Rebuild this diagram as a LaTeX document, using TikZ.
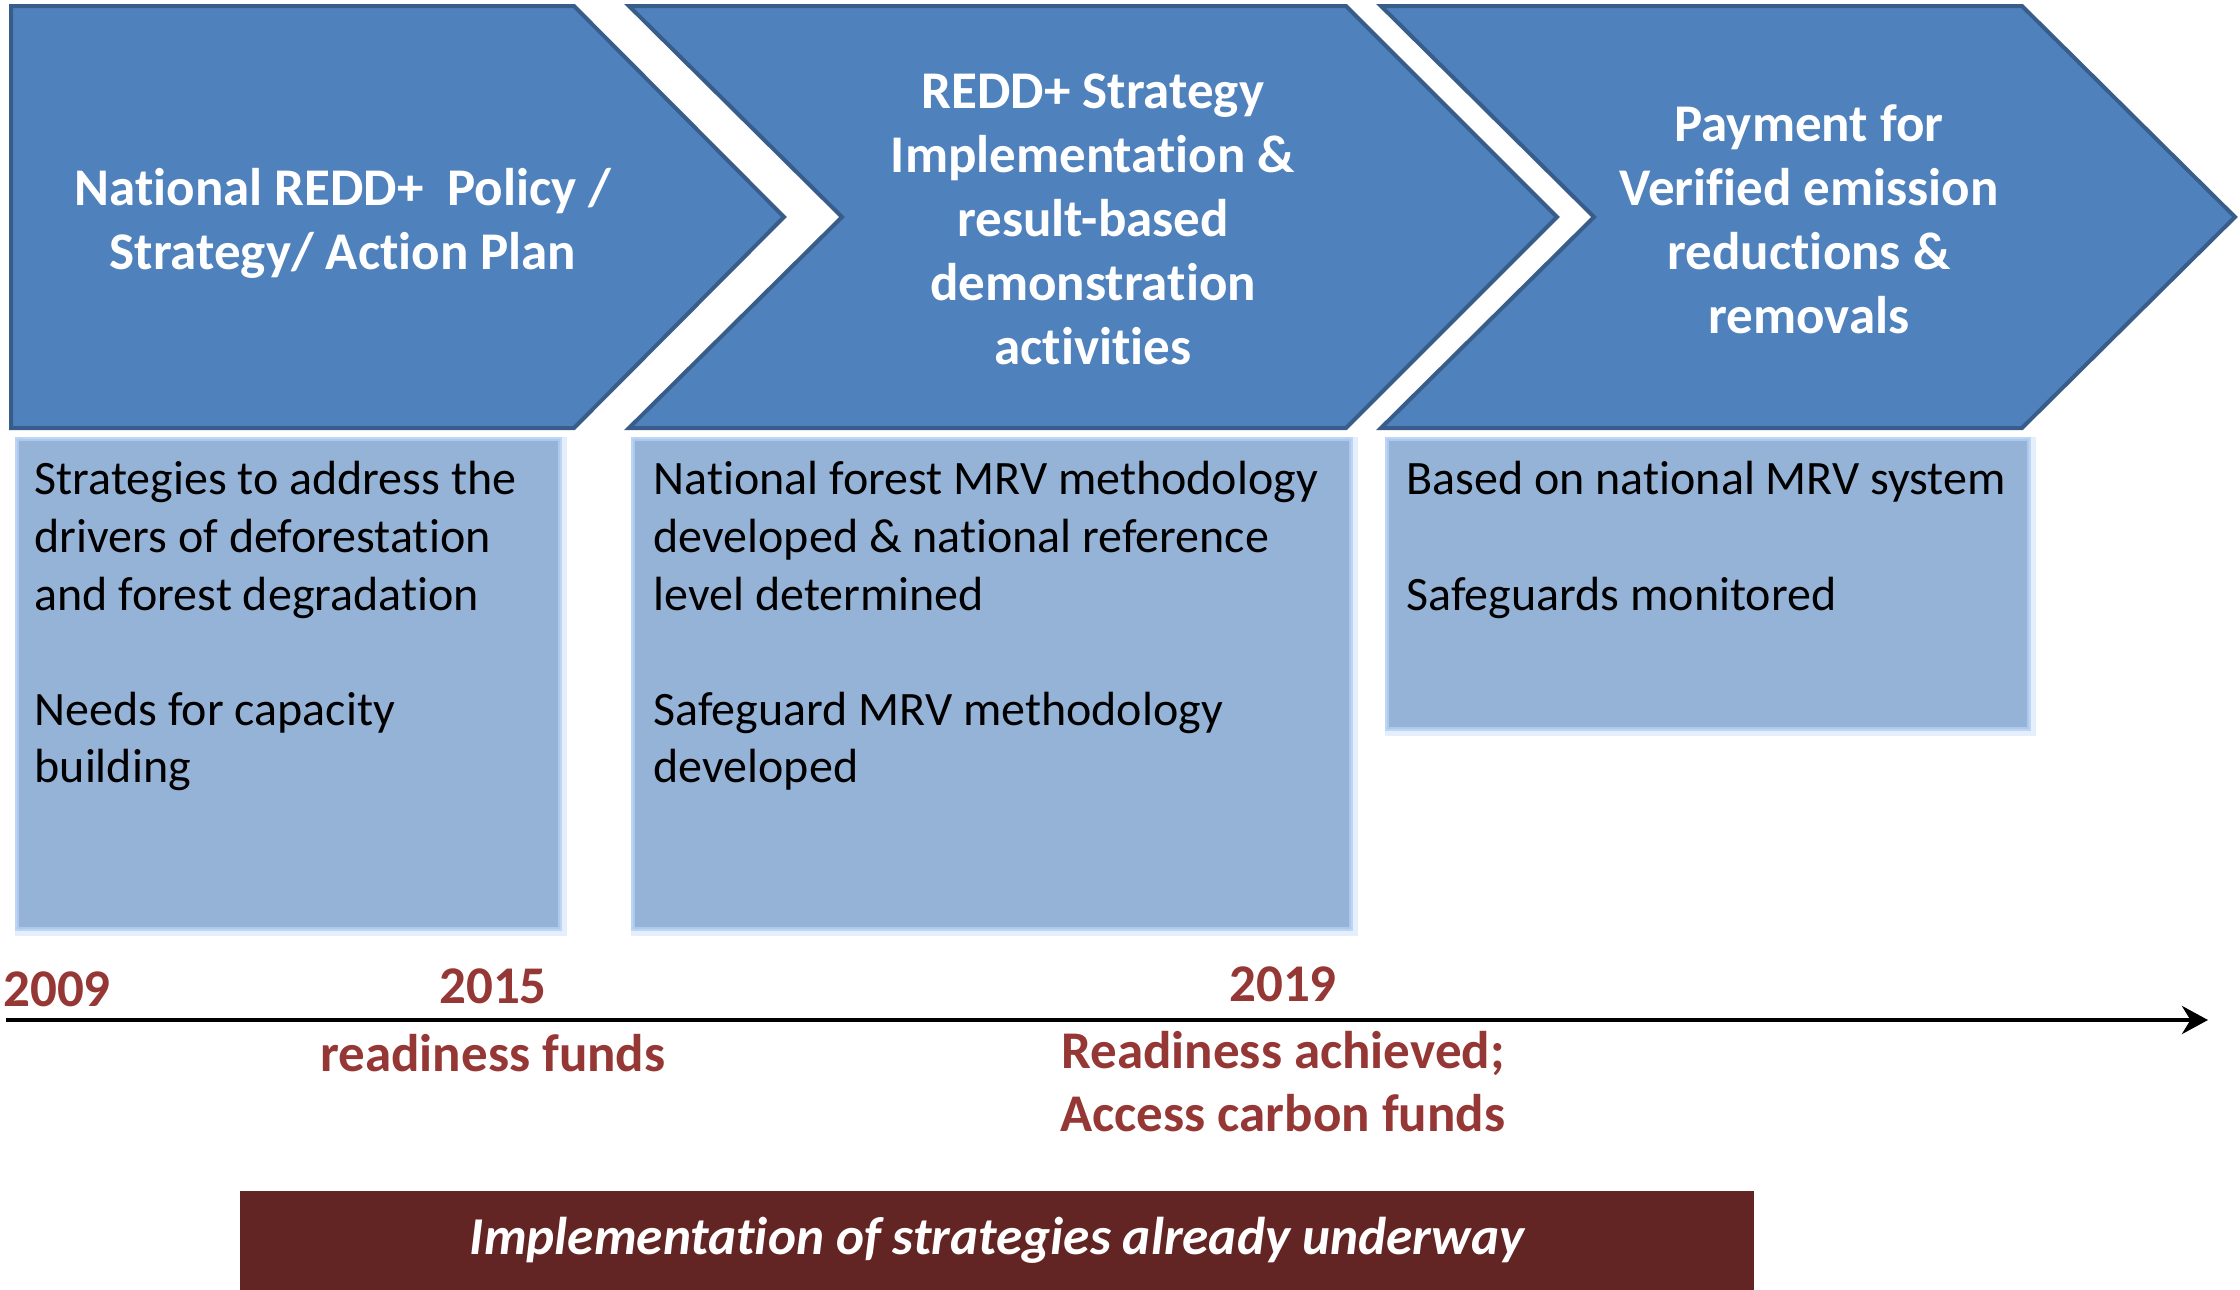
\documentclass[tikz,border=0pt]{standalone}
\usepackage{fontspec}
\setmainfont{Carlito}[RawFeature={-liga;-clig;-calt;-dlig}]
\usetikzlibrary{positioning, arrows, arrows.meta}

\definecolor{chevfill}{HTML}{4F81BD}
\definecolor{chevline}{HTML}{385D8A}
\definecolor{boxfill}{HTML}{95B3D7}
\definecolor{boxglow}{HTML}{B4CFF3}
\definecolor{yearred}{HTML}{953735}
\definecolor{barred}{HTML}{632523}

\begin{document}
\begin{tikzpicture}[x=0.5pt,y=-0.5pt,semithick]
        \tikzstyle{chevron}=[fill=chevfill,draw=chevline,line width=2pt]
        \tikzstyle{title}=[text=white,font=\fontsize{26.5}{32}\selectfont\bfseries,align=center]
        \tikzstyle{halo}=[draw=boxglow,line width=4.5pt,draw opacity=0.35,inner sep=0pt,anchor=north west]
        \tikzstyle{infobox}=[fill=boxfill,draw=boxglow,line width=2pt,draw opacity=0.8,inner sep=0pt,anchor=north west]
        \tikzstyle{infotext}=[font=\fontsize{24}{28.8}\selectfont,align=left,anchor=north west,inner sep=0pt]
        \tikzstyle{year}=[text=yearred,font=\fontsize{26.5}{31.5}\selectfont\bfseries,align=center]

        \useasboundingbox (0,0) rectangle (2240,1290);

        \draw[chevron] (11,6) -- (574,6) -- (784,217) -- (574,428) -- (11,428) -- cycle;
        \draw[chevron] (629,6) -- (1346,6) -- (1557,217) -- (1346,428) -- (629,428) -- (842,217) -- cycle;
        \draw[chevron] (1381,6) -- (2022,6) -- (2235,217) -- (2022,428) -- (1381,428) -- (1594,217) -- cycle;

        \node[title] (T1) at (343,223) {National REDD+\ \ Policy /\\Strategy/ Action Plan};
        \node[title] (T2) at (1093,219) {REDD+ Strategy\\Implementation \&\\result-based\\demonstration\\activities};
        \node[title] (T3) at (1809,219) {Payment for\\Verified emission\\reductions \&\\removals};

        \node[halo,minimum width=271.5pt,minimum height=245pt] at (15,437) {};
        \node[halo,minimum width=359pt,minimum height=245pt] at (631,437) {};
        \node[halo,minimum width=321pt,minimum height=145pt] at (1385,437) {};
        \node[infobox,minimum width=271.5pt,minimum height=245pt] (B1) at (15,437) {};
        \node[infobox,minimum width=359pt,minimum height=245pt]   (B2) at (631,437) {};
        \node[infobox,minimum width=321pt,minimum height=145pt]   (B3) at (1385,437) {};

        \node[infotext] (S1) at ([xshift=9.5pt,yshift=-12pt]B1.north west)
            {Strategies to address the\\drivers of deforestation\\and forest degradation\\[28.8pt]Needs for capacity\\building};
        \node[infotext] (S2) at ([xshift=11pt,yshift=-12pt]B2.north west)
            {National forest MRV methodology\\developed \& national reference\\level determined\\[28.8pt]Safeguard MRV methodology\\developed};
        \node[infotext] (S3) at ([xshift=10.5pt,yshift=-12pt]B3.north west)
            {Based on national MRV system\\[28.8pt]Safeguards monitored};

        \coordinate (start) at (6,1020);
        \coordinate (end) at (2208,1020);
        \draw[-{Stealth[length=13pt,width=14pt]},line width=2.2pt] (start) -- (end);

        \node[year,anchor=west] (Y2009) at (-4,989) {2009};
        \node[year] (Y2015) at (493,986) {2015};
        \node[year] (F2015) at (493,1053) {readiness funds};
        \node[year] (Y2019) at (1283,984) {2019};
        \node[year] (F2019) at (1283,1082) {Readiness achieved;\\Access carbon funds};

        \node[fill=barred,text=white,font=\fontsize{26.6}{31}\selectfont\bfseries\itshape,
              minimum width=757pt,minimum height=49.5pt,inner sep=0pt] (bar) at (997,1240.5)
            {Implementation of strategies already underway};
\end{tikzpicture}
\end{document}
